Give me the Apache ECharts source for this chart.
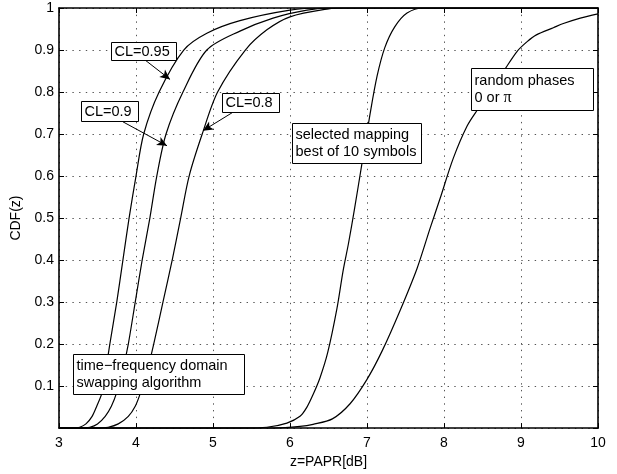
<!DOCTYPE html>
<html><head><meta charset="utf-8">
<script src="https://cdn.jsdelivr.net/npm/echarts@6/dist/echarts.min.js"></script>
<style>html,body{margin:0;padding:0;background:#fff}#c{width:617px;height:474px}</style>
</head><body><div id="c"></div>
<script>
// ---- data (z = PAPR [dB], CDF value) ----
const xTickMin = 3, xTickMax = 10, xStep = 1;
const yTickMin = 0, yTickMax = 1, yStep = 0.1;

const cl95 = [[3,0],[3.2,0],[3.27,0.002],[3.35,0.01],[3.43,0.028],[3.49,0.052],[3.56,0.085],[3.61,0.14],[3.66,0.2],[3.75,0.3],[3.83,0.4],[3.91,0.5],[4.0,0.6],[4.1,0.7],[4.3,0.8],[4.62,0.9],[4.92,0.94],[5.35,0.97],[6.0,0.995],[6.4,1],[10,1]];
const cl90 = [[3,0],[3.3,0],[3.4,0.002],[3.5,0.01],[3.6,0.028],[3.68,0.052],[3.75,0.085],[3.83,0.14],[3.9,0.2],[3.99,0.3],[4.08,0.4],[4.18,0.5],[4.27,0.6],[4.39,0.7],[4.61,0.8],[4.92,0.9],[5.35,0.945],[5.78,0.976],[6.22,0.995],[6.55,1],[10,1]];
const cl80 = [[3,0],[3.5,0],[3.64,0.002],[3.77,0.01],[3.9,0.028],[3.99,0.052],[4.06,0.085],[4.15,0.14],[4.23,0.2],[4.35,0.3],[4.47,0.4],[4.58,0.5],[4.69,0.6],[4.86,0.7],[5.06,0.8],[5.42,0.9],[5.7,0.948],[6.0,0.979],[6.5,0.998],[6.7,1],[10,1]];
const selMap = [[3,0],[5.4,0],[5.7,0.002],[5.96,0.012],[6.13,0.028],[6.22,0.05],[6.3,0.08],[6.39,0.12],[6.49,0.18],[6.61,0.285],[6.69,0.375],[6.76,0.44],[6.84,0.524],[6.93,0.625],[7.04,0.748],[7.13,0.837],[7.23,0.905],[7.36,0.955],[7.52,0.988],[7.73,1.0],[10,1]];
const randPh = [[3,0],[5.8,0],[6.13,0.004],[6.3,0.009],[6.55,0.022],[6.78,0.058],[7.0,0.116],[7.2,0.185],[7.43,0.28],[7.65,0.38],[7.82,0.476],[7.95,0.547],[8.12,0.642],[8.3,0.719],[8.44,0.759],[8.62,0.807],[8.79,0.854],[8.95,0.897],[9.08,0.92],[9.2,0.936],[9.42,0.953],[9.55,0.963],[9.77,0.976],[10,0.986]];

const xName = 'z=PAPR[dB]';
const yName = 'CDF(z)';

// annotation text boxes: anchor (top-left) in data coords
const notes = [
  {at:[3.675,0.920], lines:['CL=0.95']},
  {at:[3.286,0.778], lines:['CL=0.9']},
  {at:[5.117,0.797], lines:['CL=0.8']},
  {at:[6.026,0.726], lines:['selected mapping','best of 10 symbols']},
  {at:[8.351,0.856], lines:['random phases','0 or {p|\u03c0}']},
  {at:[3.182,0.177], lines:['time\u2212frequency domain','swapping algorithm']}
];
const noteSizes = [[65,18],[57,20],[57,19],[129,40],[122,42],[171,40]];
// arrows: from -> to in data coords
const arrows = [
  [[4.091,0.880],[4.442,0.830]],
  [[3.831,0.729],[4.403,0.672]],
  [[5.260,0.752],[4.870,0.708]]
];

const FONT = '"Liberation Sans", Arial, Helvetica, sans-serif';
const chart = echarts.init(document.getElementById('c'));

function xAx(pos, labels){
  return {type:'value', position:pos, min:xTickMin, max:xTickMax, interval:xStep,
    axisLine:{show:true, onZero:false, lineStyle:{color:'#000', width:1.6}},
    axisTick:{show:true, inside:true, length:5, lineStyle:{color:'#000', width:1}},
    axisLabel:{show:labels, color:'#000', fontFamily:FONT, fontSize:14, margin:8},
    splitLine:{show:labels, lineStyle:{color:'#555', width:1, type:[1.4,5.3]}},
    name: labels ? xName : '', nameLocation:'middle', nameGap:22,
    nameTextStyle:{color:'#000', fontFamily:FONT, fontSize:14}};
}
function yAx(pos, labels){
  return {type:'value', position:pos, min:yTickMin, max:yTickMax, interval:yStep,
    axisLine:{show:true, onZero:false, lineStyle:{color:'#000', width:1.6}},
    axisTick:{show:true, inside:true, length:5, lineStyle:{color:'#000', width:1}},
    axisLabel:{show:labels, color:'#000', fontFamily:FONT, fontSize:14, margin:5,
      formatter: v => v === 0 ? '' : String(Math.round(v*10)/10)},
    splitLine:{show:labels, lineStyle:{color:'#555', width:1, type:[1.4,5.3]}},
    name: labels ? yName : '', nameLocation:'middle', nameGap:36,
    nameTextStyle:{color:'#000', fontFamily:FONT, fontSize:14}};
}
const lineS = (name, data) => ({type:'line', name, data, showSymbol:false, symbol:'none',
  smooth:0.3,
  lineStyle:{color:'#000', width:1.2}, silent:true, animation:false, z:3});

const series = [lineS('CL=0.95', cl95), lineS('CL=0.9', cl90), lineS('CL=0.8', cl80),
  lineS('selected mapping', selMap), lineS('random phases', randPh)];
series[0].markLine = {silent:true, animation:false, symbol:['none','arrow'], symbolSize:[7,10],
  label:{show:false}, lineStyle:{color:'#000', width:1, type:'solid'},
  emphasis:{disabled:true},
  data: arrows.map(a => [{coord:a[0]}, {coord:a[1]}])};

chart.setOption({
  backgroundColor:'#fff',
  animation:false,
  grid:{left:59, right:19, top:8, bottom:42, containLabel:false},
  xAxis:[xAx('bottom', true), xAx('top', false)],
  yAxis:[yAx('left', true), yAx('right', false)],
  series
});

const graphic = [];
notes.forEach((n, i) => {
  const p = chart.convertToPixel({xAxisIndex:0, yAxisIndex:0}, n.at);
  const [w, h] = noteSizes[i];
  const x0 = Math.round(p[0]) + 0.5, y0 = Math.round(p[1]) + 0.5;
  graphic.push({type:'rect', z:100, zlevel:0, silent:true,
    shape:{x:x0, y:y0, width:w, height:h}, style:{fill:'#fff', stroke:'#000', lineWidth:1}});
  graphic.push({type:'text', z:101, zlevel:0, silent:true,
    style:{x:x0 + 3, y:y0 + h/2, text:n.lines.join('\n'), font:'14.5px ' + FONT, fill:'#000',
      lineHeight:17, verticalAlign:'middle', align:'left',
      rich:{p:{fontFamily:'"Liberation Serif", "DejaVu Serif", serif', fontSize:16, lineHeight:17, fill:'#000'}}}});
});
chart.setOption({graphic});
</script>
</body></html>
